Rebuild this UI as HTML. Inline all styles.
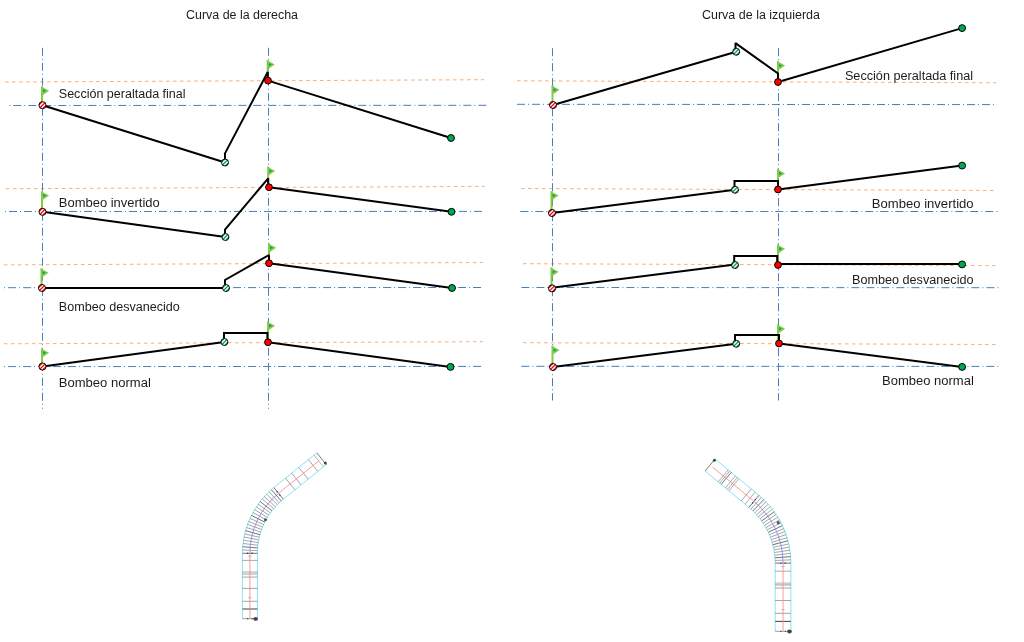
<!DOCTYPE html>
<html lang="es"><head><meta charset="utf-8"><title>Curvas</title>
<style>html,body{margin:0;padding:0;background:#fff;overflow:hidden}svg{display:block}text{font-family:"Liberation Sans",sans-serif;font-size:12.5px;fill:#1c1c1c}.b{stroke:#4A7EBB;stroke-width:1;stroke-dasharray:8 3 1 3;fill:none}.o{stroke:#F6A05E;stroke-width:0.85;stroke-dasharray:3.6 3.4;fill:none}.k{stroke:#000;stroke-width:2;fill:none;stroke-linejoin:miter;stroke-miterlimit:1.5}</style></head><body>
<svg width="1024" height="642" viewBox="0 0 1024 642">
<rect width="1024" height="642" fill="#fff"/>
<path class="o" d="M5 82 L484 79.7"/>
<path class="o" d="M5.9 188.75 L484.7 186.4"/>
<path class="o" d="M3.9 264.9 L482.8 262.5"/>
<path class="o" d="M3.9 343.8 L482.8 341.7"/>
<path class="b" stroke-dashoffset="11" d="M9.3 105.5 L486.5 105.3"/>
<path class="b" stroke-dashoffset="11" d="M5 211.5 L482.3 211.4"/>
<path class="b" stroke-dashoffset="11" d="M4.1 287.7 L481.6 287.5"/>
<path class="b" stroke-dashoffset="11" d="M4.1 366.6 L481.6 366.4"/>
<path class="b" stroke-dasharray="8.01 3 1.01 3" d="M42.5 47.8 V408.75"/>
<path class="b" stroke-dasharray="8.01 3 1.01 3" d="M268.5 47.8 V408.75"/>
<path d="M42 86.4 V105.2" stroke="#84C94A" stroke-width="2" fill="none"/><path d="M41 86.3 L49.1 90.7 L43 94.9 Z" fill="#84C94A"/><path d="M43.1 89.2 L46.1 90.7 L43.1 92.3 Z" fill="#00A651"/>
<path d="M267.7 60.2 V80.6" stroke="#84C94A" stroke-width="2" fill="none"/><path d="M266.7 60.1 L274.8 64.5 L268.7 68.7 Z" fill="#84C94A"/><path d="M268.8 63 L271.8 64.5 L268.8 66.1 Z" fill="#00A651"/>
<path d="M42 191.3 V211.8" stroke="#84C94A" stroke-width="2" fill="none"/><path d="M41 191.2 L49.1 195.6 L43 199.8 Z" fill="#84C94A"/><path d="M43.1 194.1 L46.1 195.6 L43.1 197.2 Z" fill="#00A651"/>
<path d="M268.2 166.6 V187.25" stroke="#84C94A" stroke-width="2" fill="none"/><path d="M267.2 166.5 L275.3 170.9 L269.2 175.1 Z" fill="#84C94A"/><path d="M269.3 169.4 L272.3 170.9 L269.3 172.5 Z" fill="#00A651"/>
<path d="M41.5 268.4 V288" stroke="#84C94A" stroke-width="2" fill="none"/><path d="M40.5 268.3 L48.6 272.7 L42.5 276.9 Z" fill="#84C94A"/><path d="M42.6 271.2 L45.6 272.7 L42.6 274.3 Z" fill="#00A651"/>
<path d="M269 243.4 V263.25" stroke="#84C94A" stroke-width="2" fill="none"/><path d="M268 243.3 L276.1 247.7 L270 251.9 Z" fill="#84C94A"/><path d="M270.1 246.2 L273.1 247.7 L270.1 249.3 Z" fill="#00A651"/>
<path d="M42 348.5 V366.5" stroke="#84C94A" stroke-width="2" fill="none"/><path d="M41 348.4 L49.1 352.8 L43 357 Z" fill="#84C94A"/><path d="M43.1 351.3 L46.1 352.8 L43.1 354.4 Z" fill="#00A651"/>
<path d="M268 321.5 V342.25" stroke="#84C94A" stroke-width="2" fill="none"/><path d="M267 321.4 L275.1 325.8 L269 330 Z" fill="#84C94A"/><path d="M269.1 324.3 L272.1 325.8 L269.1 327.4 Z" fill="#00A651"/>
<path class="k" d="M42.5 105.2 L225 162.5"/>
<path class="k" d="M225 162.5 L225 153.6 M224.6 154.1 L267.8 72 L267.8 80.6"/>
<path class="k" d="M268 80.6 L451 138"/>
<circle cx="42.5" cy="105.2" r="3.55" fill="#fff"/><path d="M38.95 105.07 L42.37 101.65 M39.99 107.71 L45.01 102.69 M42.63 108.75 L46.05 105.33" stroke="#FF0000" stroke-width="1.25" fill="none"/><circle cx="42.5" cy="105.2" r="3.55" fill="none" stroke="#000" stroke-width="0.95"/>
<circle cx="225" cy="162.5" r="3.5" fill="#fff"/><path d="M221.5 162.32 L224.82 159 M222.53 164.97 L227.47 160.03 M225.18 166 L228.5 162.68" stroke="#00A651" stroke-width="1.25" fill="none"/><circle cx="225" cy="162.5" r="3.5" fill="none" stroke="#000" stroke-width="0.95"/>
<circle cx="268" cy="80.6" r="3.4" fill="#FF0000" stroke="#000" stroke-width="1"/>
<circle cx="451" cy="138" r="3.45" fill="#00A651" stroke="#000" stroke-width="1"/>
<path class="k" d="M42.5 211.8 L225.4 237"/>
<path class="k" d="M225 237 L225 229.5 L268.2 178.3 L268.2 187.25"/>
<path class="k" d="M269 187.25 L451.5 211.8"/>
<circle cx="42.5" cy="211.8" r="3.55" fill="#fff"/><path d="M38.95 211.67 L42.37 208.25 M39.99 214.31 L45.01 209.29 M42.63 215.35 L46.05 211.93" stroke="#FF0000" stroke-width="1.25" fill="none"/><circle cx="42.5" cy="211.8" r="3.55" fill="none" stroke="#000" stroke-width="0.95"/>
<circle cx="225.4" cy="237" r="3.5" fill="#fff"/><path d="M221.9 236.82 L225.22 233.5 M222.93 239.47 L227.87 234.53 M225.58 240.5 L228.9 237.18" stroke="#00A651" stroke-width="1.25" fill="none"/><circle cx="225.4" cy="237" r="3.5" fill="none" stroke="#000" stroke-width="0.95"/>
<circle cx="269" cy="187.25" r="3.4" fill="#FF0000" stroke="#000" stroke-width="1"/>
<circle cx="451.5" cy="211.8" r="3.45" fill="#00A651" stroke="#000" stroke-width="1"/>
<path class="k" d="M42 288 L226 288"/>
<path class="k" d="M225 288 L225 280 L269 255 L269 263.25"/>
<path class="k" d="M269 263.25 L452 288"/>
<circle cx="42" cy="288" r="3.55" fill="#fff"/><path d="M38.45 287.87 L41.87 284.45 M39.49 290.51 L44.51 285.49 M42.13 291.55 L45.55 288.13" stroke="#FF0000" stroke-width="1.25" fill="none"/><circle cx="42" cy="288" r="3.55" fill="none" stroke="#000" stroke-width="0.95"/>
<circle cx="226" cy="288" r="3.5" fill="#fff"/><path d="M222.5 287.82 L225.82 284.5 M223.53 290.47 L228.47 285.53 M226.18 291.5 L229.5 288.18" stroke="#00A651" stroke-width="1.25" fill="none"/><circle cx="226" cy="288" r="3.5" fill="none" stroke="#000" stroke-width="0.95"/>
<circle cx="269" cy="263.25" r="3.4" fill="#FF0000" stroke="#000" stroke-width="1"/>
<circle cx="452" cy="288" r="3.45" fill="#00A651" stroke="#000" stroke-width="1"/>
<path class="k" d="M42.5 366.5 L224.4 342"/>
<path class="k" d="M224 342 L224 333.1 L267.4 333.1 L267.4 342.25"/>
<path class="k" d="M268 342.25 L450.5 366.9"/>
<circle cx="42.5" cy="366.5" r="3.55" fill="#fff"/><path d="M38.95 366.37 L42.37 362.95 M39.99 369.01 L45.01 363.99 M42.63 370.05 L46.05 366.63" stroke="#FF0000" stroke-width="1.25" fill="none"/><circle cx="42.5" cy="366.5" r="3.55" fill="none" stroke="#000" stroke-width="0.95"/>
<circle cx="224.4" cy="342" r="3.5" fill="#fff"/><path d="M220.9 341.82 L224.22 338.5 M221.93 344.47 L226.87 339.53 M224.58 345.5 L227.9 342.18" stroke="#00A651" stroke-width="1.25" fill="none"/><circle cx="224.4" cy="342" r="3.5" fill="none" stroke="#000" stroke-width="0.95"/>
<circle cx="268" cy="342.25" r="3.4" fill="#FF0000" stroke="#000" stroke-width="1"/>
<circle cx="450.5" cy="366.9" r="3.45" fill="#00A651" stroke="#000" stroke-width="1"/>
<path class="o" d="M517 80.8 L996 82.8"/>
<path class="o" d="M521 188.5 L995 190.5"/>
<path class="o" d="M523 263.7 L996.5 265.6"/>
<path class="o" d="M523 342.7 L996.5 344.5"/>
<path class="b" stroke-dashoffset="0" d="M517 104.3 L995 104.6"/>
<path class="b" stroke-dashoffset="0" d="M520.3 211.5 L998 211.5"/>
<path class="b" stroke-dashoffset="0" d="M521.4 287.5 L998.7 287.7"/>
<path class="b" stroke-dashoffset="0" d="M521.4 366.3 L998.7 366.4"/>
<path class="b" stroke-dasharray="8.03 3.01 1 3.01" d="M552.5 48.2 V400.5"/>
<path class="b" stroke-dasharray="8.03 3.01 1 3.01" d="M778.5 48.2 V400.5"/>
<path d="M552.5 85.5 V105" stroke="#84C94A" stroke-width="2" fill="none"/><path d="M551.5 85.4 L559.6 89.8 L553.5 94 Z" fill="#84C94A"/><path d="M553.6 88.3 L556.6 89.8 L553.6 91.4 Z" fill="#00A651"/>
<path d="M778 61.2 V82" stroke="#84C94A" stroke-width="2" fill="none"/><path d="M777 61.1 L785.1 65.5 L779 69.7 Z" fill="#84C94A"/><path d="M779.1 64 L782.1 65.5 L779.1 67.1 Z" fill="#00A651"/>
<path d="M551.5 191.25 V213" stroke="#84C94A" stroke-width="2" fill="none"/><path d="M550.5 191.15 L558.6 195.55 L552.5 199.75 Z" fill="#84C94A"/><path d="M552.6 194.05 L555.6 195.55 L552.6 197.15 Z" fill="#00A651"/>
<path d="M778 169.1 V189.5" stroke="#84C94A" stroke-width="2" fill="none"/><path d="M777 169 L785.1 173.4 L779 177.6 Z" fill="#84C94A"/><path d="M779.1 171.9 L782.1 173.4 L779.1 175 Z" fill="#00A651"/>
<path d="M551.5 267.5 V288.4" stroke="#84C94A" stroke-width="2" fill="none"/><path d="M550.5 267.4 L558.6 271.8 L552.5 276 Z" fill="#84C94A"/><path d="M552.6 270.3 L555.6 271.8 L552.6 273.4 Z" fill="#00A651"/>
<path d="M778 244.5 V265" stroke="#84C94A" stroke-width="2" fill="none"/><path d="M777 244.4 L785.1 248.8 L779 253 Z" fill="#84C94A"/><path d="M779.1 247.3 L782.1 248.8 L779.1 250.4 Z" fill="#00A651"/>
<path d="M552.5 345.75 V367" stroke="#84C94A" stroke-width="2" fill="none"/><path d="M551.5 345.65 L559.6 350.05 L553.5 354.25 Z" fill="#84C94A"/><path d="M553.6 348.55 L556.6 350.05 L553.6 351.65 Z" fill="#00A651"/>
<path d="M778 324.4 V343.5" stroke="#84C94A" stroke-width="2" fill="none"/><path d="M777 324.3 L785.1 328.7 L779 332.9 Z" fill="#84C94A"/><path d="M779.1 327.2 L782.1 328.7 L779.1 330.3 Z" fill="#00A651"/>
<path class="k" d="M553 105 L736.2 51.75"/>
<path class="k" d="M735.5 51.75 L735.5 43.1 L778 73.5 L778 82"/>
<path class="k" d="M778 82 L962.1 28.1"/>
<circle cx="553" cy="105" r="3.55" fill="#fff"/><path d="M549.45 104.87 L552.87 101.45 M550.49 107.51 L555.51 102.49 M553.13 108.55 L556.55 105.13" stroke="#FF0000" stroke-width="1.25" fill="none"/><circle cx="553" cy="105" r="3.55" fill="none" stroke="#000" stroke-width="0.95"/>
<circle cx="736.2" cy="51.75" r="3.5" fill="#fff"/><path d="M732.7 51.57 L736.02 48.25 M733.73 54.22 L738.67 49.28 M736.38 55.25 L739.7 51.93" stroke="#00A651" stroke-width="1.25" fill="none"/><circle cx="736.2" cy="51.75" r="3.5" fill="none" stroke="#000" stroke-width="0.95"/>
<circle cx="778" cy="82" r="3.4" fill="#FF0000" stroke="#000" stroke-width="1"/>
<circle cx="962.1" cy="28.1" r="3.45" fill="#00A651" stroke="#000" stroke-width="1"/>
<path class="k" d="M552 213 L735 189.75"/>
<path class="k" d="M734.5 189.75 L734.5 181 L778 181 L778 189.5"/>
<path class="k" d="M778 189.5 L962.1 165.6"/>
<circle cx="552" cy="213" r="3.55" fill="#fff"/><path d="M548.45 212.87 L551.87 209.45 M549.49 215.51 L554.51 210.49 M552.13 216.55 L555.55 213.13" stroke="#FF0000" stroke-width="1.25" fill="none"/><circle cx="552" cy="213" r="3.55" fill="none" stroke="#000" stroke-width="0.95"/>
<circle cx="735" cy="189.75" r="3.5" fill="#fff"/><path d="M731.5 189.57 L734.82 186.25 M732.53 192.22 L737.47 187.28 M735.18 193.25 L738.5 189.93" stroke="#00A651" stroke-width="1.25" fill="none"/><circle cx="735" cy="189.75" r="3.5" fill="none" stroke="#000" stroke-width="0.95"/>
<circle cx="778" cy="189.5" r="3.4" fill="#FF0000" stroke="#000" stroke-width="1"/>
<circle cx="962.1" cy="165.6" r="3.45" fill="#00A651" stroke="#000" stroke-width="1"/>
<path class="k" d="M552 287.8 L735 264.4"/>
<path class="k" d="M734.2 265 L734.2 256.1 L777.2 256.1 L777.2 265"/>
<path class="k" d="M778 264.1 L962.1 264.1"/>
<circle cx="552" cy="288.4" r="3.55" fill="#fff"/><path d="M548.45 288.27 L551.87 284.85 M549.49 290.91 L554.51 285.89 M552.13 291.95 L555.55 288.53" stroke="#FF0000" stroke-width="1.25" fill="none"/><circle cx="552" cy="288.4" r="3.55" fill="none" stroke="#000" stroke-width="0.95"/>
<circle cx="735" cy="265" r="3.5" fill="#fff"/><path d="M731.5 264.82 L734.82 261.5 M732.53 267.47 L737.47 262.53 M735.18 268.5 L738.5 265.18" stroke="#00A651" stroke-width="1.25" fill="none"/><circle cx="735" cy="265" r="3.5" fill="none" stroke="#000" stroke-width="0.95"/>
<circle cx="778" cy="265" r="3.4" fill="#FF0000" stroke="#000" stroke-width="1"/>
<circle cx="962.1" cy="264.4" r="3.45" fill="#00A651" stroke="#000" stroke-width="1"/>
<path class="k" d="M553 367 L736.2 343.75"/>
<path class="k" d="M735 343.75 L735 335 L779 335 L779 343.5"/>
<path class="k" d="M779 343.5 L962.1 366.9"/>
<circle cx="553" cy="367" r="3.55" fill="#fff"/><path d="M549.45 366.87 L552.87 363.45 M550.49 369.51 L555.51 364.49 M553.13 370.55 L556.55 367.13" stroke="#FF0000" stroke-width="1.25" fill="none"/><circle cx="553" cy="367" r="3.55" fill="none" stroke="#000" stroke-width="0.95"/>
<circle cx="736.2" cy="343.75" r="3.5" fill="#fff"/><path d="M732.7 343.57 L736.02 340.25 M733.73 346.22 L738.67 341.28 M736.38 347.25 L739.7 343.93" stroke="#00A651" stroke-width="1.25" fill="none"/><circle cx="736.2" cy="343.75" r="3.5" fill="none" stroke="#000" stroke-width="0.95"/>
<circle cx="779" cy="343.5" r="3.4" fill="#FF0000" stroke="#000" stroke-width="1"/>
<circle cx="962.1" cy="366.9" r="3.45" fill="#00A651" stroke="#000" stroke-width="1"/>
<text x="186" y="19" textLength="112" lengthAdjust="spacingAndGlyphs">Curva de la derecha</text>
<text x="702" y="19" textLength="118" lengthAdjust="spacingAndGlyphs">Curva de la izquierda</text>
<text x="58.8" y="97.6" textLength="126.8" lengthAdjust="spacingAndGlyphs">Sección peraltada final</text>
<text x="58.8" y="207.3" textLength="101" lengthAdjust="spacingAndGlyphs">Bombeo invertido</text>
<text x="58.8" y="310.5" textLength="121" lengthAdjust="spacingAndGlyphs">Bombeo desvanecido</text>
<text x="58.8" y="386.75" textLength="92" lengthAdjust="spacingAndGlyphs">Bombeo normal</text>
<text x="844.9" y="80" textLength="128.2" lengthAdjust="spacingAndGlyphs">Sección peraltada final</text>
<text x="871.8" y="207.8" textLength="101.8" lengthAdjust="spacingAndGlyphs">Bombeo invertido</text>
<text x="852" y="283.5" textLength="121.5" lengthAdjust="spacingAndGlyphs">Bombeo desvanecido</text>
<text x="882" y="385.2" textLength="91.8" lengthAdjust="spacingAndGlyphs">Bombeo normal</text>
<path d="M242.4 618.7 L242.4 553.3 A84.5 84.5 0 0 1 273.84 487.54 L316.8 452.87" fill="none" stroke="#8FE3F5" stroke-width="1"/><path d="M257.4 618.7 L257.4 553.3 A69.5 69.5 0 0 1 283.26 499.21 L326.22 464.55" fill="none" stroke="#8FE3F5" stroke-width="1"/><g stroke="#505050" fill="none"><path d="M242.4 553.3 H257.4" stroke-width="0.8" opacity="1"/><path d="M242.4 560.4 H257.4" stroke-width="0.6" opacity="0.8"/><path d="M242.4 571.6 H257.4" stroke-width="0.6" opacity="0.45"/><path d="M242.4 572.6 H257.4" stroke-width="0.6" opacity="0.45"/><path d="M242.4 573.6 H257.4" stroke-width="0.6" opacity="0.45"/><path d="M242.4 574.6 H257.4" stroke-width="0.6" opacity="0.45"/><path d="M242.4 577.1 H257.4" stroke-width="0.6" opacity="0.85"/><path d="M242.4 588.4 H257.4" stroke-width="0.6" opacity="0.85"/><path d="M242.4 601.3 H257.4" stroke-width="0.6" opacity="0.85"/><path d="M242.4 609 H257.4" stroke-width="1.1" opacity="1"/><path d="M242.4 618.7 H257.4" stroke-width="0.7" opacity="0.8"/><path d="M242.46 550.02 L257.45 550.61" stroke-width="0.6" opacity="0.85"/><path d="M242.65 546.75 L257.61 547.92" stroke-width="0.95" opacity="0.85"/><path d="M242.97 543.49 L257.87 545.23" stroke-width="0.6" opacity="0.85"/><path d="M243.41 540.25 L258.23 542.56" stroke-width="0.6" opacity="0.85"/><path d="M243.98 537.02 L258.7 539.91" stroke-width="0.6" opacity="0.85"/><path d="M244.68 533.82 L259.27 537.28" stroke-width="0.6" opacity="0.85"/><path d="M245.49 530.64 L259.94 534.67" stroke-width="0.95" opacity="0.85"/><path d="M246.43 527.51 L260.72 532.08" stroke-width="0.6" opacity="0.85"/><path d="M247.49 524.41 L261.59 529.53" stroke-width="0.6" opacity="0.85"/><path d="M248.67 521.35 L262.56 527.02" stroke-width="0.6" opacity="0.85"/><path d="M249.97 518.34 L263.63 524.55" stroke-width="0.6" opacity="0.85"/><path d="M251.38 515.38 L264.79 522.11" stroke-width="0.95" opacity="0.85"/><path d="M252.91 512.49 L266.05 519.73" stroke-width="0.6" opacity="0.85"/><path d="M254.55 509.65 L267.39 517.4" stroke-width="0.6" opacity="0.85"/><path d="M256.3 506.88 L268.83 515.12" stroke-width="0.6" opacity="0.85"/><path d="M258.15 504.17 L270.35 512.89" stroke-width="0.6" opacity="0.85"/><path d="M260.1 501.54 L271.96 510.73" stroke-width="0.95" opacity="0.85"/><path d="M262.16 498.99 L273.65 508.63" stroke-width="0.6" opacity="0.85"/><path d="M264.31 496.53 L275.42 506.6" stroke-width="0.6" opacity="0.85"/><path d="M266.56 494.14 L277.27 504.64" stroke-width="0.6" opacity="0.85"/><path d="M268.9 491.85 L279.2 502.76" stroke-width="0.6" opacity="0.85"/><path d="M271.33 489.64 L281.19 500.94" stroke-width="0.95" opacity="0.85"/><path d="M273.84 487.54 L283.26 499.21" stroke-width="0.8" opacity="1"/><path d="M285.51 478.12 L294.93 489.79" stroke-width="0.6" opacity="0.85"/><path d="M291.66 473.16 L301.08 484.83" stroke-width="0.6" opacity="0.85"/><path d="M298.74 467.44 L308.16 479.12" stroke-width="0.6" opacity="0.85"/><path d="M308.39 459.66 L317.81 471.33" stroke-width="0.6" opacity="0.85"/><path d="M313.99 455.14 L323.41 466.81" stroke-width="0.6" opacity="0.7"/><path d="M248.4 556.1 H251.4" stroke-width="0.6" opacity="0.7"/><path d="M248.4 597.7 H251.4" stroke-width="0.6" opacity="0.7"/></g><path d="M249.9 618.7 V553.3" stroke="#F58585" stroke-width="0.8" fill="none"/><path d="M249.9 553.3 A77 77 0 0 1 278.55 493.38" stroke="#8080F0" stroke-width="0.8" fill="none"/><path d="M278.55 493.38 L319.17 460.6" stroke="#F58585" stroke-width="0.8" fill="none"/><circle cx="247.7" cy="553.3" r="0.7" fill="#222"/><circle cx="252.1" cy="553.3" r="0.7" fill="#222"/><circle cx="279.93" cy="495.09" r="0.7" fill="#222"/><circle cx="277.17" cy="491.66" r="0.7" fill="#222"/><ellipse cx="255.6" cy="618.9" rx="2.3" ry="1.9" fill="#2a2a2a" opacity="0.85"/><circle cx="247.7" cy="618.7" r="0.6" fill="#222"/><circle cx="252.1" cy="618.7" r="0.6" fill="#222"/><circle cx="325.32" cy="462.96" r="1.5" fill="#2a2a2a" opacity="0.85"/><path d="M316.8 452.87 L326.22 464.55" stroke="#333" stroke-width="0.8" opacity="0.8"/><circle cx="265.45" cy="519.77" r="1.6" fill="#345" opacity="0.85"/>
<path d="M790.9 631.3 L790.9 563.1 A88.05 88.05 0 0 0 758.98 495.26 L715.13 458.99" fill="none" stroke="#8FE3F5" stroke-width="1"/><path d="M775.2 631.3 L775.2 563.1 A72.35 72.35 0 0 0 748.97 507.35 L705.13 471.08" fill="none" stroke="#8FE3F5" stroke-width="1"/><g stroke="#505050" fill="none"><path d="M775.2 563.1 H790.9" stroke-width="0.8" opacity="1"/><path d="M775.2 571.2 H790.9" stroke-width="0.6" opacity="0.8"/><path d="M775.2 582.9 H790.9" stroke-width="0.6" opacity="0.45"/><path d="M775.2 583.8 H790.9" stroke-width="0.6" opacity="0.45"/><path d="M775.2 584.6 H790.9" stroke-width="0.6" opacity="0.45"/><path d="M775.2 585.4 H790.9" stroke-width="0.6" opacity="0.45"/><path d="M775.2 588 H790.9" stroke-width="0.6" opacity="0.85"/><path d="M775.2 600.5 H790.9" stroke-width="0.6" opacity="0.85"/><path d="M775.2 613.3 H790.9" stroke-width="0.6" opacity="0.85"/><path d="M775.2 621.4 H790.9" stroke-width="1.1" opacity="1"/><path d="M775.2 631.3 H790.9" stroke-width="0.7" opacity="0.8"/><path d="M790.84 559.87 L775.15 560.45" stroke-width="0.6" opacity="0.85"/><path d="M790.66 556.65 L775.01 557.8" stroke-width="0.95" opacity="0.85"/><path d="M790.37 553.44 L774.76 555.16" stroke-width="0.6" opacity="0.85"/><path d="M789.96 550.24 L774.42 552.53" stroke-width="0.6" opacity="0.85"/><path d="M789.43 547.05 L773.99 549.92" stroke-width="0.6" opacity="0.85"/><path d="M788.78 543.89 L773.46 547.32" stroke-width="0.6" opacity="0.85"/><path d="M788.02 540.76 L772.83 544.74" stroke-width="0.95" opacity="0.85"/><path d="M787.14 537.65 L772.11 542.19" stroke-width="0.6" opacity="0.85"/><path d="M786.15 534.58 L771.3 539.66" stroke-width="0.6" opacity="0.85"/><path d="M785.05 531.55 L770.39 537.17" stroke-width="0.6" opacity="0.85"/><path d="M783.84 528.55 L769.4 534.71" stroke-width="0.6" opacity="0.85"/><path d="M782.52 525.61 L768.31 532.29" stroke-width="0.95" opacity="0.85"/><path d="M781.09 522.72 L767.14 529.92" stroke-width="0.6" opacity="0.85"/><path d="M779.56 519.88 L765.88 527.58" stroke-width="0.6" opacity="0.85"/><path d="M777.92 517.09 L764.54 525.3" stroke-width="0.6" opacity="0.85"/><path d="M776.19 514.37 L763.11 523.06" stroke-width="0.6" opacity="0.85"/><path d="M774.35 511.72 L761.6 520.88" stroke-width="0.95" opacity="0.85"/><path d="M772.42 509.13 L760.02 518.76" stroke-width="0.6" opacity="0.85"/><path d="M770.4 506.62 L758.35 516.69" stroke-width="0.6" opacity="0.85"/><path d="M768.28 504.18 L756.62 514.69" stroke-width="0.6" opacity="0.85"/><path d="M766.08 501.82 L754.81 512.75" stroke-width="0.6" opacity="0.85"/><path d="M763.79 499.55 L752.93 510.88" stroke-width="0.95" opacity="0.85"/><path d="M761.42 497.36 L750.98 509.08" stroke-width="0.6" opacity="0.85"/><path d="M758.98 495.26 L748.97 507.35" stroke-width="0.8" opacity="1"/><path d="M755.12 492.07 L745.12 504.17" stroke-width="0.6" opacity="0.8"/><path d="M751.27 488.88 L741.26 500.98" stroke-width="0.6" opacity="0.85"/><path d="M738.94 478.68 L728.93 490.78" stroke-width="0.6" opacity="0.8"/><path d="M737.4 477.41 L727.39 489.51" stroke-width="0.6" opacity="0.8"/><path d="M735.47 475.81 L725.47 487.91" stroke-width="0.6" opacity="0.8"/><path d="M731.24 472.31 L721.23 484.41" stroke-width="0.9" opacity="0.85"/><path d="M729.7 471.03 L719.69 483.13" stroke-width="0.6" opacity="0.8"/><path d="M728.15 469.76 L718.15 481.86" stroke-width="0.6" opacity="0.8"/><path d="M781.55 566.5 H784.55" stroke-width="0.6" opacity="0.7"/><path d="M781.55 609.6 H784.55" stroke-width="0.6" opacity="0.7"/></g><path d="M783.05 631.3 V563.1" stroke="#F58585" stroke-width="0.8" fill="none"/><path d="M783.05 563.1 A80.2 80.2 0 0 0 753.97 501.3" stroke="#8080F0" stroke-width="0.8" fill="none"/><path d="M753.97 501.3 L712.44 466.95" stroke="#F58585" stroke-width="0.8" fill="none"/><circle cx="780.85" cy="563.1" r="0.7" fill="#222"/><circle cx="785.25" cy="563.1" r="0.7" fill="#222"/><circle cx="752.57" cy="503" r="0.7" fill="#222"/><circle cx="755.37" cy="499.61" r="0.7" fill="#222"/><ellipse cx="789.5" cy="631.5" rx="2.3" ry="1.9" fill="#2a2a2a" opacity="0.85"/><circle cx="780.85" cy="631.3" r="0.6" fill="#222"/><circle cx="785.25" cy="631.3" r="0.6" fill="#222"/><circle cx="714.41" cy="460.33" r="1.5" fill="#2a2a2a" opacity="0.85"/><path d="M715.13 458.99 L705.13 471.08" stroke="#333" stroke-width="0.8" opacity="0.8"/><circle cx="778.23" cy="522.64" r="1.6" fill="#345" opacity="0.85"/>
</svg></body></html>
